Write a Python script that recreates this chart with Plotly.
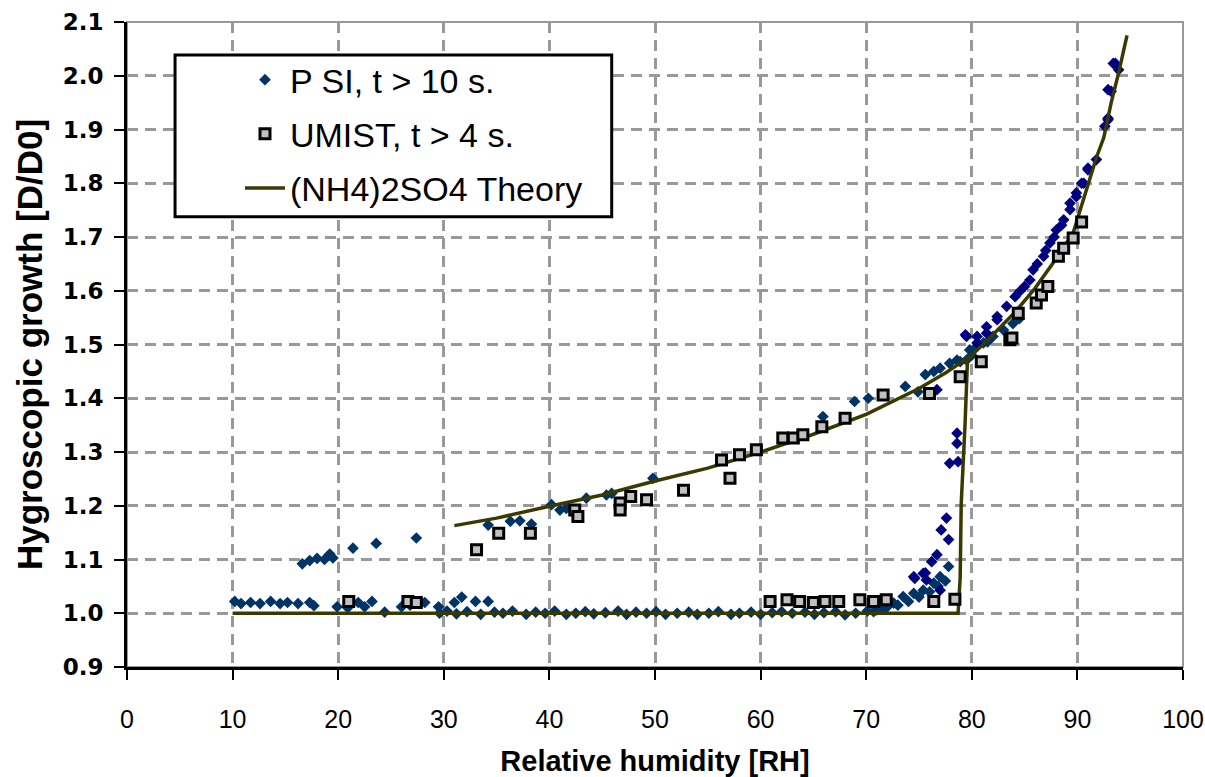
import plotly.graph_objects as go

# ---------------- data ----------------
psi_x = [10.2, 10.8, 11.7, 12.6, 13.6, 14.5, 15.2, 16.2, 17.3, 17.7, 19.9, 20.9, 21.9, 22.5, 23.2, 24.4, 26.0, 26.8,
         28.2, 29.5, 29.6, 31.0, 31.7, 33.0, 34.2,
         30.3, 31.2, 32.2, 33.5, 34.8, 35.6, 36.5, 37.8, 38.7, 39.6, 40.5, 41.6, 42.5, 43.4, 44.2, 45.3, 46.5, 47.3,
         48.2, 49.2, 50.1, 51.0, 52.1, 53.2, 54.0, 55.1, 56.0, 57.2, 58.0, 59.1, 60.0, 61.1, 62.0, 63.0, 64.2, 65.1,
         66.0, 67.1, 68.0, 69.0, 70.1, 71.0,
         70.7, 71.6, 72.6, 73.5, 74.5, 75.4, 76.4, 77.0, 77.8, 72.0, 73.0, 74.0, 75.0, 76.0, 76.8, 77.5,
         16.6, 17.3, 18.0, 18.7, 19.5, 19.2, 21.4, 23.6, 27.4,
         34.2, 36.3, 37.2, 38.3, 40.2, 41.0, 41.6, 43.5, 45.4, 45.9, 49.8, 65.9, 68.9, 70.2, 73.7, 74.9, 75.6, 76.4,
         77.0, 77.9, 78.9, 79.5,
         78.6, 79.8, 80.5, 81.1, 82.0, 83.0, 83.9, 84.5, 80.0, 81.5]
psi_y = [1.022, 1.018, 1.020, 1.018, 1.022, 1.018, 1.020, 1.018, 1.020, 1.014, 1.012, 1.010, 1.020, 1.012, 1.022,
         1.002, 1.012, 1.015, 1.020, 1.012, 1.000, 1.020, 1.030, 1.022, 1.022,
         1.004, 0.999, 1.003, 0.998, 1.002, 1.000, 1.004, 0.998, 1.002, 1.000, 1.004, 0.998, 1.000, 1.003, 0.999,
         1.001, 1.004, 0.998, 1.002, 1.000, 1.003, 0.998, 1.000, 1.002, 0.998, 1.000, 1.003, 0.998, 1.000, 1.002,
         0.998, 1.001, 1.003, 1.000, 1.002, 0.998, 1.001, 1.003, 0.997, 1.000, 1.004, 1.006,
         1.003, 1.009, 1.019, 1.031, 1.037, 1.043, 1.056, 1.068, 1.087, 1.012, 1.015, 1.022, 1.030, 1.040, 1.050, 1.060,
         1.092, 1.098, 1.102, 1.100, 1.103, 1.110, 1.121, 1.130, 1.140,
         1.164, 1.171, 1.172, 1.166, 1.202, 1.192, 1.195, 1.214, 1.220, 1.223, 1.251, 1.366, 1.394, 1.400, 1.422,
         1.412, 1.444, 1.450, 1.456, 1.465, 1.468, 1.471,
         1.471, 1.490, 1.497, 1.503, 1.515, 1.527, 1.539, 1.548, 1.480, 1.505]

psi2_x = [74.5, 75.4, 76.2, 77.0, 74.6, 75.6, 75.7, 76.7, 77.1, 77.6, 77.8, 77.9, 78.7, 78.6, 78.6, 76.7,
          79.4, 79.5, 80.5, 80.5, 81.4, 81.4, 82.4, 82.4, 83.3, 84.1, 85.0, 85.8, 86.8, 87.4, 88.0, 88.7, 89.3,
          89.3, 89.9, 89.9, 90.4, 90.6, 91.0, 91.0, 91.8, 92.6, 92.9, 92.9, 93.2, 92.9, 93.4, 93.6, 93.9,
          84.6, 85.5, 86.2, 87.0, 87.8, 88.5]
psi2_y = [1.068, 1.074, 1.096, 1.043, 1.065, 1.075, 1.062, 1.109, 1.155, 1.177, 1.137, 1.279, 1.282, 1.316, 1.335,
          1.416,
          1.518, 1.515, 1.503, 1.515, 1.521, 1.533, 1.546, 1.552, 1.571, 1.589, 1.608, 1.639, 1.664, 1.689, 1.713,
          1.732, 1.751, 1.763, 1.775, 1.782, 1.800, 1.800, 1.825, 1.828, 1.844, 1.906, 1.921, 1.918, 1.971, 1.974,
          2.023, 2.023, 2.011,
          1.600, 1.620, 1.650, 1.675, 1.700, 1.722]

umist_x = [21.0, 26.6, 27.4, 33.1, 35.2, 38.2, 42.4, 42.7, 46.7, 46.7, 47.7, 49.2, 52.7, 56.3, 57.1, 58.0, 59.6,
           62.1, 63.1, 64.0, 65.8, 68.0, 71.6, 76.0, 78.9, 80.9, 83.6, 83.8, 84.4, 86.1, 86.6, 87.2, 88.2, 88.7,
           89.6, 90.4,
           60.9, 62.5, 63.7, 65.0, 66.1, 67.4, 69.4, 70.7, 71.9, 76.4, 78.4]
umist_y = [1.022, 1.022, 1.020, 1.118, 1.149, 1.149, 1.192, 1.180, 1.205, 1.192, 1.217, 1.211, 1.229, 1.285, 1.251,
           1.295, 1.304, 1.326, 1.326, 1.332, 1.347, 1.363, 1.406, 1.409, 1.440, 1.468, 1.509, 1.512, 1.558, 1.577,
           1.592, 1.608, 1.664, 1.679, 1.698, 1.728,
           1.022, 1.025, 1.022, 1.020, 1.022, 1.022, 1.025, 1.022, 1.025, 1.022, 1.026]

theory_hi_x = [31, 35, 40, 45, 50, 55, 60, 65, 70, 72.5, 75, 77.5, 80, 82, 84, 86, 88, 89.6, 90.6, 91.2, 91.8,
               92.5, 93.2, 93.9, 94.7]
theory_hi_y = [1.163, 1.177, 1.199, 1.220, 1.246, 1.270, 1.300, 1.333, 1.370, 1.394, 1.418, 1.447, 1.480, 1.518,
               1.558, 1.605, 1.660, 1.708, 1.770, 1.810, 1.848, 1.885, 1.950, 2.005, 2.075]
theory_lo_x = [10, 78.7, 78.9, 79.0, 79.35, 79.5, 79.6]
theory_lo_y = [1.0, 1.0, 1.066, 1.205, 1.347, 1.44, 1.475]

x_ticks = [0, 10, 20, 30, 40, 50, 60, 70, 80, 90, 100]
y_ticks = [0.9, 1.0, 1.1, 1.2, 1.3, 1.4, 1.5, 1.6, 1.7, 1.8, 1.9, 2.0, 2.1]

# ---------------- figure ----------------
SANS = "Liberation Sans, Arial, sans-serif"
WIDE = "DejaVu Sans, Liberation Sans, sans-serif"
fig = go.Figure()

fig.add_trace(go.Scatter(x=psi_x, y=psi_y, mode="markers", name="P SI, t > 10 s.",
                         legendgroup="a", legendrank=1,
                         marker=dict(symbol="diamond", size=9, color="#003366")))
fig.add_trace(go.Scatter(x=psi2_x, y=psi2_y, mode="markers", name="P SI 2", showlegend=False,
                         legendgroup="a",
                         marker=dict(symbol="diamond", size=9, color="#000080")))
theory_x = theory_lo_x + [None] + theory_hi_x
theory_y = theory_lo_y + [None] + theory_hi_y
fig.add_trace(go.Scatter(x=theory_x, y=theory_y, mode="lines", name="(NH4)2SO4 Theory",
                         legendgroup="c", legendrank=3, connectgaps=False,
                         line=dict(color="#3a3a00", width=3.5)))
fig.add_trace(go.Scatter(x=umist_x, y=umist_y, mode="markers", name="UMIST, t > 4 s.",
                         legendgroup="b", legendrank=2,
                         marker=dict(symbol="square", size=10, color="#c0c0c0",
                                     line=dict(color="black", width=3))))

fig.update_layout(
    width=1205, height=777,
    margin=dict(l=127, r=22, t=22, b=110, autoexpand=False),
    paper_bgcolor="white", plot_bgcolor="white",
    font=dict(family=SANS, color="black"),
    showlegend=True,
    legend=dict(x=0.107, y=0.955, xanchor="left", yanchor="top",
                bgcolor="rgba(0,0,0,0)", borderwidth=0,
                font=dict(size=34, family=SANS, color="black"),
                traceorder="grouped", tracegroupgap=7, itemwidth=40),
    shapes=[
        dict(type="rect", xref="paper", yref="paper", x0=0, x1=1, y0=0, y1=1,
             line=dict(color="#999999", width=2), layer="below"),
        dict(type="rect", xref="paper", yref="paper", x0=0.0455, x1=0.459, y0=0.698, y1=0.949,
             line=dict(color="black", width=3), fillcolor="white", layer="above"),
    ],
)

fig.update_xaxes(
    range=[0, 100], tickvals=x_ticks, ticktext=[str(v) for v in x_ticks],
    showline=True, linecolor="black", linewidth=3,
    ticks="outside", ticklen=10, tickwidth=2, tickcolor="black",
    showgrid=True, gridcolor="#999999", gridwidth=3, griddash="11px,7px",
    zeroline=False, ticklabelstandoff=18, automargin=False, ticklabeloverflow="allow",
    tickfont=dict(size=25, family=SANS, color="black"),
    title=dict(text="<b>Relative humidity [RH]</b>", font=dict(size=29, family=SANS), standoff=20),
)
fig.update_yaxes(
    range=[0.9, 2.1], tickvals=y_ticks, ticktext=["<b>%.1f</b>" % v for v in y_ticks],
    showline=True, linecolor="black", linewidth=3,
    ticks="outside", ticklen=10, tickwidth=2, tickcolor="black",
    showgrid=True, gridcolor="#999999", gridwidth=3, griddash="11px,7px",
    zeroline=False, ticklabelstandoff=6, automargin=False, ticklabeloverflow="allow",
    tickfont=dict(size=23, family=WIDE, color="black"),
    title=dict(text="<b>Hygroscopic growth [D/D0]</b>", font=dict(size=35, family=SANS), standoff=10),
)

fig.write_html("out.html")
